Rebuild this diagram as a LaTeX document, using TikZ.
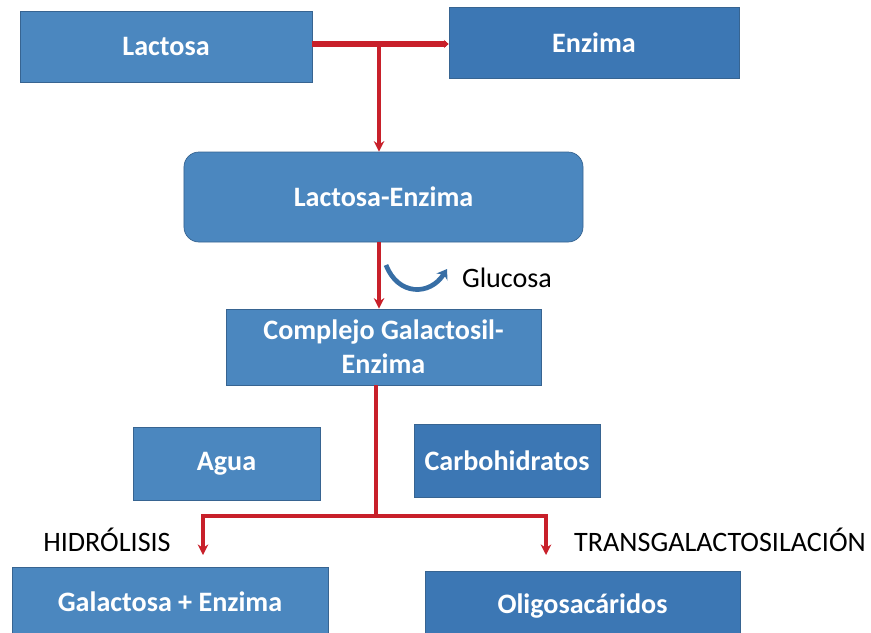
\documentclass[tikz,border=0pt]{standalone}
\usepackage{fontspec}
\setmainfont{Carlito}
\usetikzlibrary{arrows.meta}
\definecolor{boxlight}{RGB}{75,135,191}
\definecolor{boxdark}{RGB}{60,119,180}
\definecolor{boxedge}{RGB}{55,100,145}
\definecolor{linered}{RGB}{200,32,42}
\definecolor{arcblue}{RGB}{55,110,165}
\begin{document}
\begin{tikzpicture}[x=0.03cm, y=-0.03cm,
    caja/.style={draw=boxedge, line width=0.6pt, fill=boxlight, text=white,
      font=\fontsize{24}{29}\selectfont\bfseries, align=center, inner sep=0pt},
    oscura/.style={caja, fill=boxdark},
    flecha/.style={draw=linered, line width=2.6pt, -{Stealth[length=9pt,width=9pt]}},
    rotulo/.style={font=\fontsize{24}{29}\selectfont, text=black}]

            \useasboundingbox (0,0) rectangle (871,632);

            \node[caja, minimum width=8.76cm, minimum height=2.13cm] (lactosa) at (166,46.5) {Lactosa};
            \node[oscura, minimum width=8.7cm, minimum height=2.13cm] (enzima) at (594,42.5) {Enzima};
            \node[caja, rounded corners=0.45cm, minimum width=11.97cm, minimum height=2.7cm] (lacenz) at (383.5,197) {Lactosa-Enzima};
            \node[caja, minimum width=9.45cm, minimum height=2.28cm] (complejo) at (383.5,347) {Complejo Galactosil-\\Enzima};
            \node[caja, minimum width=5.61cm, minimum height=2.19cm] (agua) at (226.5,463.5) {Agua};
            \node[oscura, minimum width=5.58cm, minimum height=2.19cm] (carbo) at (507,460.5) {Carbohidratos};
            \node[caja, minimum width=9.48cm, minimum height=2.1cm] (galenz) at (170,602) {Galactosa + Enzima};
            \node[oscura, minimum width=9.45cm, minimum height=2.1cm] (oligo) at (582.5,606) {Oligosacáridos};

            \node[rotulo] (glucosa) at (507,278) {Glucosa};
            \node[rotulo] (hidro) at (107,540) {HIDRÓLISIS};
            \node[rotulo] (trans) at (720,540) {TRANSGALACTOSILACIÓN};

            \coordinate (union) at (379,44);
            \coordinate (bifur) at (376,516);
            \coordinate (finhidro) at (203,555);
            \coordinate (fintrans) at (546,555);
            \coordinate (gluini) at (386,265);
            \coordinate (glufin) at (447,269);

            \draw[draw=linered, line width=5pt, -{Stealth[length=4pt,width=7pt]}] (lactosa.east |- union) -- (enzima.west |- union);
            \draw[flecha] (union) -- (union |- lacenz.north);
            \draw[flecha] (lacenz.south -| union) -- (complejo.north -| union);

            \draw[draw=arcblue, line width=4pt, -{Stealth[length=8pt,width=11pt]}] (gluini) .. controls (398,296) and (430,296) .. (glufin);

            \draw[draw=linered, line width=2.6pt] (complejo.south -| bifur) -- (bifur);
            \draw[flecha] (bifur) -| (finhidro);
            \draw[flecha] (bifur) -| (fintrans);
        \end{tikzpicture}
\end{document}
